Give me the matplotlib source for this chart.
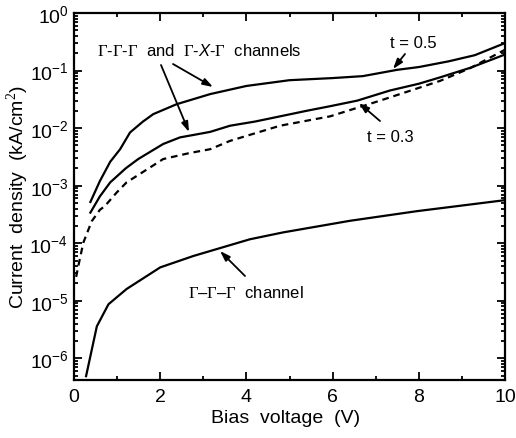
import matplotlib
matplotlib.use("Agg")
from matplotlib import pyplot as plt
from matplotlib.ticker import LogLocator, MultipleLocator, NullFormatter

plt.rcParams["font.family"] = ["Liberation Sans", "DejaVu Sans"]
plt.rcParams["mathtext.fontset"] = "custom"
plt.rcParams["mathtext.rm"] = "Liberation Serif"
plt.rcParams["mathtext.it"] = "Liberation Sans:italic"
plt.rcParams["mathtext.sf"] = "Liberation Sans"

# t = 0.5, Gamma-Gamma-Gamma and Gamma-X-Gamma channels
v_t05 = [0.38, 0.6, 0.84, 1.07, 1.3, 1.6, 1.84, 2.38, 3.16, 4.0, 5.0, 6.0, 6.7, 7.5, 8.0, 8.7, 9.3, 10.0]
j_t05 = [5.2e-4, 1.2e-3, 2.6e-3, 4.3e-3, 8.4e-3, 1.3e-2, 1.75e-2, 2.6e-2, 3.9e-2, 5.4e-2,
         6.8e-2, 7.4e-2, 8.0e-2, 1.03e-1, 1.15e-1, 1.45e-1, 1.85e-1, 3.0e-1]

# t = 0.3, Gamma-Gamma-Gamma and Gamma-X-Gamma channels
v_t03 = [0.38, 0.6, 0.84, 1.2, 1.49, 2.07, 2.46, 2.77, 3.16, 3.62, 4.2, 4.78, 5.4, 5.94, 6.57,
         7.33, 8.0, 8.49, 9.2, 10.0]
j_t03 = [3.4e-4, 6.5e-4, 1.14e-3, 2.0e-3, 2.9e-3, 5.3e-3, 6.9e-3, 7.6e-3, 8.6e-3, 1.1e-2,
         1.3e-2, 1.6e-2, 2.0e-2, 2.4e-2, 3.0e-2, 4.5e-2, 5.9e-2, 7.6e-2, 1.12e-1, 1.9e-1]

# dashed curve
v_dash = [0.05, 0.1, 0.216, 0.41, 0.6, 0.72, 0.99, 1.22, 1.53, 2.07, 2.69, 3.16, 3.62, 4.78,
          5.94, 7.1, 8.49, 9.19, 10.0]
j_dash = [2.6e-5, 4.0e-5, 1.02e-4, 2.4e-4, 3.8e-4, 4.45e-4, 7.6e-4, 1.14e-3, 1.6e-3, 2.9e-3,
          3.7e-3, 4.3e-3, 6.0e-3, 1.1e-2, 1.6e-2, 3.0e-2, 6.6e-2, 1.1e-1, 2.3e-1]

# Gamma-Gamma-Gamma channel only
v_ggg = [0.28, 0.53, 0.80, 1.22, 2.0, 2.77, 3.31, 4.08, 4.85, 6.4, 7.95, 10.0]
j_ggg = [4.9e-7, 3.6e-6, 8.7e-6, 1.6e-5, 3.8e-5, 6.0e-5, 7.9e-5, 1.17e-4, 1.54e-4, 2.45e-4,
         3.6e-4, 5.6e-4]

fig = plt.figure(figsize=(5.16, 4.39), dpi=100)
ax = fig.add_axes([74 / 516, 1 - 381 / 439, 431 / 516, 367 / 439])

ax.plot(v_t05, j_t05, color="black", lw=1.6)
ax.plot(v_t03, j_t03, color="black", lw=1.6)
ax.plot(v_dash, j_dash, color="black", lw=1.6, ls=(0, (3, 2.2)))
ax.plot(v_ggg, j_ggg, color="black", lw=1.6)

ax.set_yscale("log")
ax.set_xlim(0, 10)
ax.set_ylim(4.2e-7, 1.0)

ax.xaxis.set_major_locator(MultipleLocator(2))
ax.xaxis.set_minor_locator(MultipleLocator(1))
ax.yaxis.set_major_locator(LogLocator(base=10, numticks=10))
ax.yaxis.set_minor_locator(LogLocator(base=10, subs=range(2, 10), numticks=20))
ax.yaxis.set_minor_formatter(NullFormatter())

ax.tick_params(which="both", direction="in", top=True, right=True, width=1.3)
ax.tick_params(which="major", length=6, labelsize=14, pad=6)
ax.tick_params(axis="y", which="major", pad=4)
ax.tick_params(which="minor", length=3)
for s in ax.spines.values():
    s.set_linewidth(1.6)

ax.set_xlabel("Bias  voltage  (V)", fontsize=14)
ax.set_ylabel("Current  density  (kA/cm$^2$)", fontsize=14)
ax.xaxis.set_label_coords(0.49, -0.078)
ax.yaxis.set_label_coords(-0.102, 0.5)

arrow = dict(arrowstyle="-|>,head_length=0.6,head_width=0.2", color="black", lw=1.3,
             shrinkA=0, shrinkB=0)


def px(x, y):
    # pixel position in the reference picture -> figure fraction
    return (x / 516, 1 - y / 439)


fig.text(*px(97, 51), r"$\Gamma$-$\Gamma$-$\Gamma$  and  $\Gamma$-$X$-$\Gamma$  channels",
         fontsize=12, va="center", ha="left")
ax.annotate("", xy=px(213, 88), xycoords="figure fraction",
            xytext=px(173, 65), textcoords="figure fraction", arrowprops=arrow)
ax.annotate("", xy=px(189, 133), xycoords="figure fraction",
            xytext=px(161, 66), textcoords="figure fraction", arrowprops=arrow)

fig.text(*px(413, 43), "t = 0.5", fontsize=12, va="center", ha="center")
ax.annotate("", xy=px(393, 70), xycoords="figure fraction",
            xytext=px(405, 55), textcoords="figure fraction", arrowprops=arrow)

fig.text(*px(390, 137), "t = 0.3", fontsize=12, va="center", ha="center")
ax.annotate("", xy=px(359, 104), xycoords="figure fraction",
            xytext=px(380, 122), textcoords="figure fraction", arrowprops=arrow)

fig.text(*px(246, 293), r"$\Gamma$–$\Gamma$–$\Gamma$  channel", fontsize=12,
         va="center", ha="center")
ax.annotate("", xy=px(220, 252), xycoords="figure fraction",
            xytext=px(245, 277), textcoords="figure fraction", arrowprops=arrow)

fig.savefig("out.png", dpi=100)
